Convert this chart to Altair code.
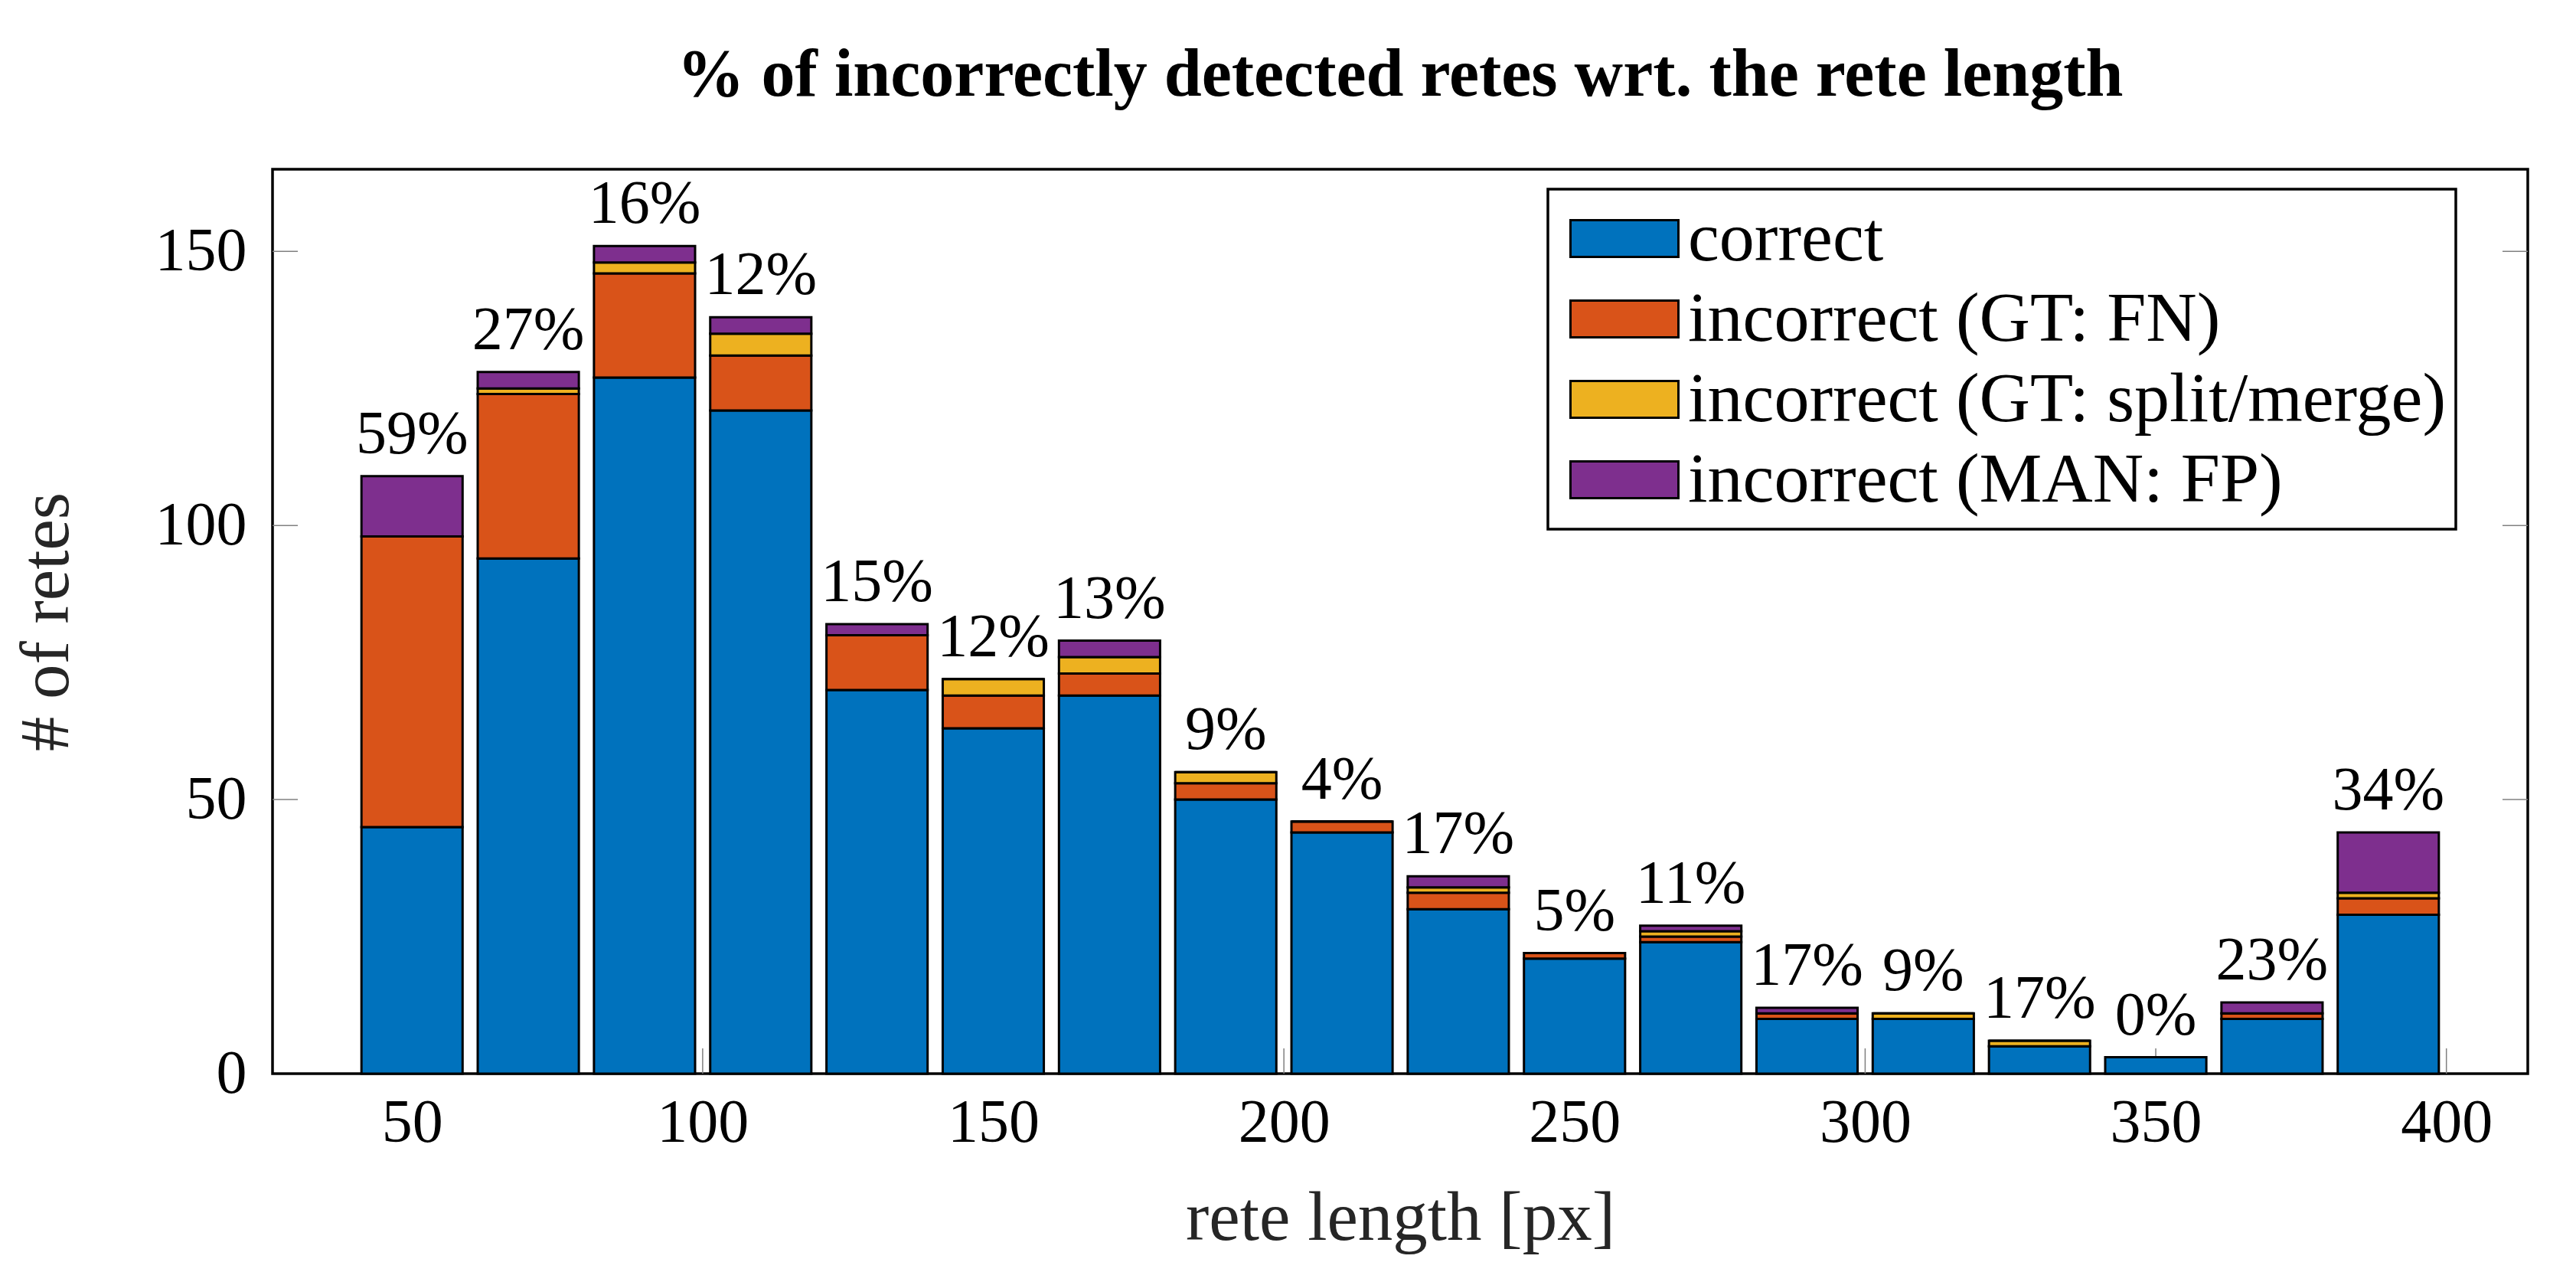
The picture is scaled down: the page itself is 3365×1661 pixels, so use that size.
import altair as alt
import pandas as pd

# ---- data ----
lengths = [50, 70, 90, 110, 130, 150, 170, 190, 210, 230, 250, 270, 290, 310, 330, 350, 370, 390]
correct = [45, 94, 127, 121, 70, 63, 69, 50, 44, 30, 21, 24, 10, 10, 5, 3, 10, 29]
gt_fn = [53, 30, 19, 10, 10, 6, 4, 3, 2, 3, 1, 1, 1, 0, 0, 0, 1, 3]
gt_split = [0, 1, 2, 4, 0, 3, 3, 2, 0, 1, 0, 1, 0, 1, 1, 0, 0, 1]
man_fp = [11, 3, 3, 3, 2, 0, 3, 0, 0, 2, 0, 1, 1, 0, 0, 0, 2, 11]
pct_labels = ["59%", "27%", "16%", "12%", "15%", "12%", "13%", "9%", "4%",
              "17%", "5%", "11%", "17%", "9%", "17%", "0%", "23%", "34%"]

categories = ["correct", "incorrect (GT: FN)", "incorrect (GT: split/merge)", "incorrect (MAN: FP)"]
colors = ["#0072BD", "#D95319", "#EDB120", "#7E2F8E"]

x_ticks = [50, 100, 150, 200, 250, 300, 350, 400]
y_ticks = [0, 50, 100, 150]
x_domain = [26, 414]
y_domain = [0, 165]

title_text = "% of incorrectly detected retes wrt. the rete length"
x_title = "rete length [px]"
y_title = "# of retes"

# ---- tables ----
series = [correct, gt_fn, gt_split, man_fp]
rows = []
for i, L in enumerate(lengths):
    for k, name in enumerate(categories):
        rows.append({"len": L, "cat": name, "n": series[k][i], "ord": k})
df = pd.DataFrame(rows)

totals = [sum(s[i] for s in series) for i in range(len(lengths))]
df_lab = pd.DataFrame({"len": lengths, "total": totals, "label": pct_labels})
df_yt = pd.DataFrame({"v": [50, 100, 150]})
df_xt = pd.DataFrame({"v": x_ticks})

W, H = 2946, 1181
FONT = "Liberation Serif"
TICK = 33
half_bar = 8.7

xscale = alt.Scale(domain=x_domain, nice=False, zero=False)
yscale = alt.Scale(domain=y_domain, nice=False, zero=True)

x_axis = alt.Axis(values=x_ticks, ticks=False, domain=False, grid=False,
                  labelFont=FONT, labelFontSize=80, labelColor="black",
                  labelPadding=25, labelFlush=False,
                  title=x_title, titleFont=FONT, titleFontSize=91,
                  titleFontWeight="normal", titleColor="#262626", titlePadding=40)
y_axis = alt.Axis(values=y_ticks, ticks=False, domain=False, grid=False,
                  labelFont=FONT, labelFontSize=80, labelColor="black",
                  labelPadding=34, labelFlush=False,
                  title=y_title, titleFont=FONT, titleFontSize=91,
                  titleFontWeight="normal", titleColor="#262626", titlePadding=95)

bars = alt.Chart(df).transform_stack(
    stack="n", groupby=["len"], as_=["y0", "y1"],
    sort=[alt.SortField("ord", order="ascending")]
).transform_calculate(
    x0=f"datum.len - {half_bar}", x1=f"datum.len + {half_bar}"
).mark_bar(stroke="black", strokeWidth=3, opacity=1).encode(
    x=alt.X("x0:Q", scale=xscale, axis=x_axis),
    x2="x1:Q",
    y=alt.Y("y0:Q", scale=yscale, axis=y_axis),
    y2="y1:Q",
    color=alt.Color("cat:N", scale=alt.Scale(domain=categories, range=colors),
                    legend=alt.Legend(title=None, orient="none", legendX=1666, legendY=26,
                                      direction="vertical",
                                      symbolType="M-1,-0.34L1,-0.34L1,0.34L-1,0.34Z",
                                      symbolSize=19881, symbolStrokeColor="black",
                                      symbolStrokeWidth=3, symbolOpacity=1,
                                      symbolOffset=16,
                                      labelFont=FONT, labelFontSize=92, labelColor="black",
                                      labelLimit=3000, labelOffset=11,
                                      clipHeight=105,
                                      padding=12, rowPadding=0,
                                      strokeColor="black", fillColor="white")),
)

labels = alt.Chart(df_lab).mark_text(
    font=FONT, fontSize=80, color="black", baseline="alphabetic", align="center", dy=-30
).encode(
    x=alt.X("len:Q", scale=xscale, axis=x_axis),
    y=alt.Y("total:Q", scale=yscale, axis=y_axis),
    text="label:N",
)

tick_style = dict(color="#808080", strokeWidth=1.5)
left_ticks = alt.Chart(df_yt).mark_rule(**tick_style).encode(
    y=alt.Y("v:Q", scale=yscale, axis=y_axis), x=alt.value(0), x2=alt.value(TICK))
right_ticks = alt.Chart(df_yt).mark_rule(**tick_style).encode(
    y=alt.Y("v:Q", scale=yscale, axis=y_axis), x=alt.value(W - TICK), x2=alt.value(W))
bottom_ticks = alt.Chart(df_xt).mark_rule(**tick_style).encode(
    x=alt.X("v:Q", scale=xscale, axis=x_axis), y=alt.value(H), y2=alt.value(H - TICK))

chart = alt.layer(left_ticks, right_ticks, bottom_ticks, bars, labels).properties(
    width=W, height=H,
    padding={"left": 7, "top": 47, "right": 5, "bottom": 5},
    title=alt.TitleParams(text=title_text, font=FONT, fontSize=88, fontWeight="bold",
                          color="black", anchor="middle", frame="group", offset=78),
).configure(background="white").configure_view(
    stroke="black", strokeWidth=3.5, fill="white"
).configure_legend(strokeWidth=3.5)

chart.save("out.html", embed_options={"renderer": "svg", "actions": False})
